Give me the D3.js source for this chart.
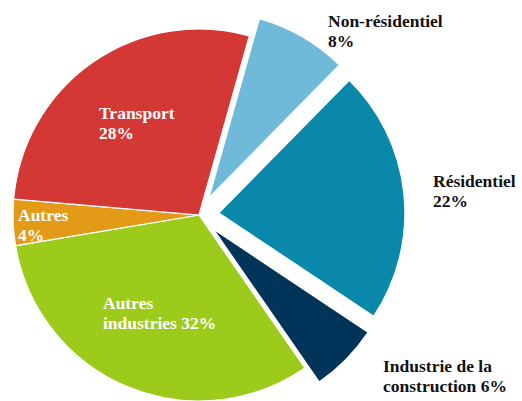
<!DOCTYPE html>
<html>
<head>
<meta charset="utf-8">
<script src="https://cdn.jsdelivr.net/npm/d3@7/dist/d3.min.js"></script>
<style>
  html, body { margin: 0; padding: 0; background: #fff; }
  svg { display: block; }
</style>
</head>
<body>
<div id="chart"></div>
<script>
// ─── Data ─────────────────────────────────────────────
const categories = ['Non-résidentiel', 'Résidentiel', 'Industrie de la construction', 'Autres industries', 'Autres', 'Transport'];
const shares = [8, 22, 6, 32, 4, 28];
const colors = ['#6fbad8', '#0a88aa', '#003459', '#9dcb1b', '#e39a17', '#d43835'];
const exploded = [true, true, true, false, false, false];
const labelLines = [
  ['Non-résidentiel', '8%'],
  ['Résidentiel', '22%'],
  ['Industrie de la', 'construction 6%'],
  ['Autres', 'industries 32%'],
  ['Autres', '4%'],
  ['Transport', '28%']
];
const labelInside = [false, false, false, true, true, true];

(function() {
  const W = 522, H = 401;
  const cx = 199, cy = 215, R = 186;
  const explode = 20;
  const firstAngle = 15.7 * Math.PI / 180;

  // label offsets relative to pie centre (first baseline, left edge)
  const labelOffset = [[129, -188], [234, -28], [184, 157], [-96, 94], [-181, 6], [-100, -96]];

  const svg = d3.select('#chart').append('svg')
    .attr('width', W).attr('height', H);

  const data = categories.map((c, i) => ({ name: c, value: shares[i], i }));

  const pie = d3.pie().value(d => d.value).sort(null)
    .startAngle(firstAngle).endAngle(firstAngle + 2 * Math.PI);
  const arc = d3.arc().innerRadius(0).outerRadius(R);

  const g = svg.append('g').attr('transform', `translate(${cx},${cy})`);

  g.selectAll('path')
    .data(pie(data))
    .enter().append('path')
    .attr('d', arc)
    .attr('fill', d => colors[d.data.i])
    .attr('stroke', '#fff')
    .attr('stroke-width', 1.2)
    .attr('transform', d => {
      if (!exploded[d.data.i]) return null;
      const mid = (d.startAngle + d.endAngle) / 2;
      return `translate(${explode * Math.sin(mid)},${-explode * Math.cos(mid)})`;
    });

  const lbl = g.selectAll('text.lbl')
    .data(data)
    .enter().append('text')
    .attr('class', 'lbl')
    .attr('font-family', "'Liberation Serif', 'Times New Roman', serif")
    .attr('font-weight', 'bold')
    .attr('font-size', '17.5px')
    .attr('x', d => labelOffset[d.i][0])
    .attr('y', d => labelOffset[d.i][1])
    .attr('fill', d => labelInside[d.i] ? '#fff' : '#111');

  lbl.selectAll('tspan')
    .data(d => labelLines[d.i].map(t => ({ t, x: labelOffset[d.i][0] })))
    .enter().append('tspan')
    .attr('x', d => d.x)
    .attr('dy', (d, k) => k === 0 ? 0 : 19.5)
    .text(d => d.t);
})();
</script>
</body>
</html>
